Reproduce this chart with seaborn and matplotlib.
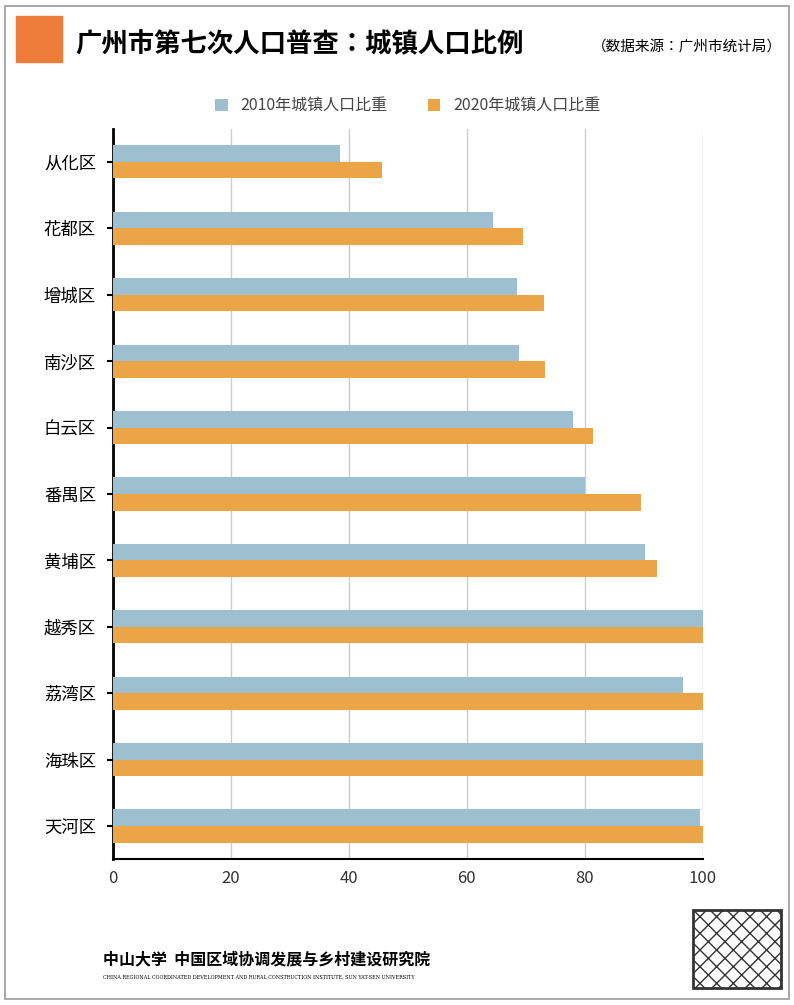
import matplotlib
matplotlib.use("Agg")
import matplotlib.pyplot as plt
import seaborn as sns
import pandas as pd
from matplotlib.patches import Rectangle

plt.rcParams["font.family"] = "sans-serif"
plt.rcParams["font.sans-serif"] = ["Noto Sans CJK SC", "Noto Sans CJK JP", "DejaVu Sans"]

districts = ["从化区", "花都区", "增城区", "南沙区", "白云区", "番禺区", "黄埔区", "越秀区", "荔湾区", "海珠区", "天河区"]
v2010 = [38.5, 64.4, 68.5, 68.8, 78.1, 80.0, 90.3, 100, 96.6, 100, 99.5]
v2020 = [45.6, 69.5, 73.1, 73.2, 81.4, 89.5, 92.2, 100, 100, 100, 100]
series = ["2010年城镇人口比重", "2020年城镇人口比重"]
colors = ["#9DBFCF", "#EBA446"]

df = pd.DataFrame({
    "区": districts * 2,
    "值": v2010 + v2020,
    "系列": [series[0]] * len(districts) + [series[1]] * len(districts),
})

fig = plt.figure(figsize=(7.94, 10.05), dpi=100)
fig.patches.append(Rectangle((0.006, 0.006), 0.988, 0.988, transform=fig.transFigure,
                             fill=False, edgecolor="#999999", lw=1.2))
ax = fig.add_axes([0.142, 0.145, 0.743, 0.727])
sns.barplot(data=df, y="区", x="值", hue="系列", order=districts, hue_order=series,
            palette=colors, saturation=1, width=0.5, orient="h", ax=ax, zorder=3)
ax.set_xlim(0, 100)
ax.set_xticks([0, 20, 40, 60, 80, 100])
ax.set_xlabel("")
ax.set_ylabel("")
ax.grid(axis="x", color="#cccccc", lw=1, zorder=0)
ax.set_axisbelow(True)
for s in ["top", "right"]:
    ax.spines[s].set_visible(False)
ax.spines["left"].set_linewidth(2)
ax.spines["bottom"].set_linewidth(1.5)
ax.tick_params(axis="y", length=4, width=1.5, labelsize=12.5, pad=8)
ax.tick_params(axis="x", length=0, labelsize=12, colors="#333333", pad=8)
ax.set_ylim(len(districts) - 0.5, -0.5)
ax.legend(loc="lower center", bbox_to_anchor=(0.5, 1.0), ncol=2, frameon=False,
          fontsize=11.5, handlelength=0.8, handleheight=0.8, columnspacing=2.5,
          labelcolor="#444444")

# title area
fig.patches.append(Rectangle((0.02, 0.938), 0.058, 0.046, transform=fig.transFigure,
                             color="#EE7D3B"))
fig.text(0.095, 0.955, "广州市第七次人口普查：城镇人口比例", fontsize=19, fontweight="bold",
         va="center")
fig.text(0.985, 0.953, "（数据来源：广州市统计局）", fontsize=10.5, ha="right", va="center")
fig.text(0.13, 0.045, "中山大学  中国区域协调发展与乡村建设研究院", fontsize=11.5,
         fontweight="bold", va="center")
fig.text(0.13, 0.028, "CHINA REGIONAL COORDINATED DEVELOPMENT AND RURAL CONSTRUCTION INSTITUTE, SUN YAT-SEN UNIVERSITY",
         fontsize=3.5, va="center", fontfamily="DejaVu Serif")
fig.patches.append(Rectangle((0.873, 0.017), 0.11, 0.078, transform=fig.transFigure,
                             fill=False, edgecolor="#333333", lw=2, hatch="xx"))
fig.savefig("out.png", dpi=100)
